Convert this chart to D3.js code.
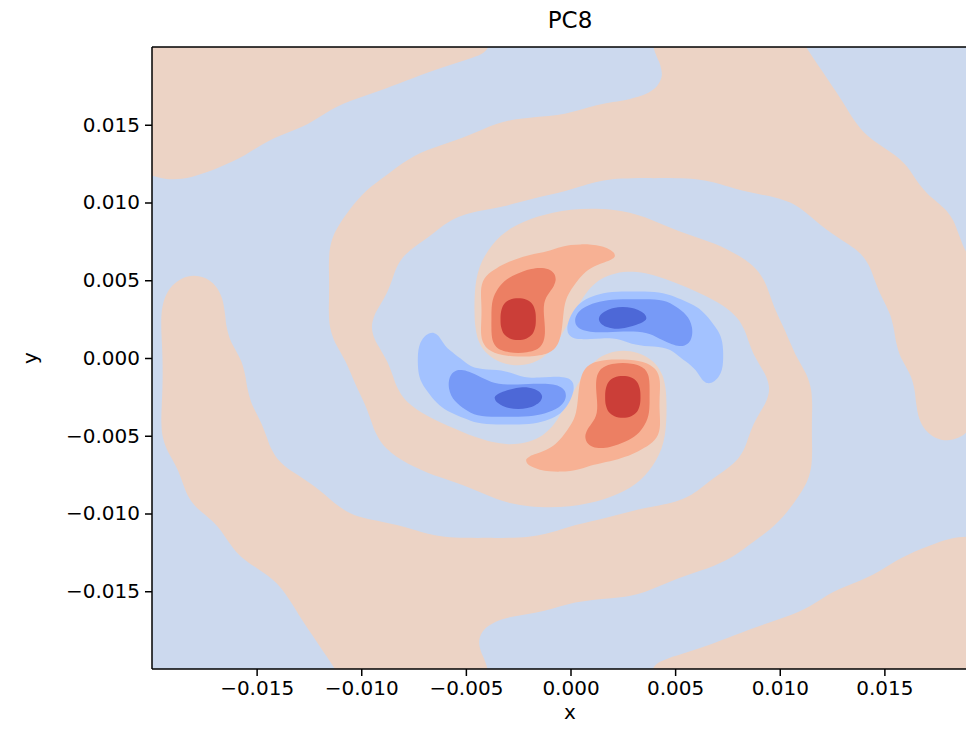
<!DOCTYPE html>
<html>
<head>
<meta charset="utf-8">
<script src="https://cdn.jsdelivr.net/npm/d3@7"></script>
<style>body{margin:0;background:#fff;}</style>
</head>
<body>
<svg id="chart" width="966" height="739"></svg>
<script>
// ---------------- data ----------------
// Field sampled on a regular grid. Digits are contour-band indices:
// 0 dark blue, 1 blue, 2 light blue, 3 pale blue, 4 pale orange, 5 salmon, 6 red-orange, 7 dark red.
// Outer grid: x,y from -0.020 to 0.020 every 0.001 (rows from top y=0.020 down).
const outerX0 = -0.02, outerY0 = 0.02, outerStep = 0.001, outerN = 41;
const outerRows = [
  "44444444444444444 3333333 44444444 333333333",
  "444444444444444 3333333333 4444444 333333333",
  "4444444444444 333333333333 44444444 33333333",
  "44444444444 3333333333333 444444444 33333333",
  "444444444 333333333333 4444444444444 3333333",
  "44444444 333333333 44444444444444444 3333333",
  "444444 333333333 44444444444444444444 333333",
  "44444 33333333 44444444444444444444444 33333",
  "444 333333333 4444444444444444444444444 3333",
  "33333333333 4444444444 3333333 444444444 3333",
  "3333333333 44444444 3333333333333 4444444 333",
  "3333333333 44444 3333 44444 33333333 4444444 33",
  "333333333 44444 333 444444444 3333333 444444 33",
  "333333333 4444 3333 44444444444 333333 44444 33",
  "333333333 444 3333 4444444444444 333333 44444 3",
  "33 4 333333 444 3333 444444 333 44444 33333 44444 3",
  "3 444 33333 444 3333 44444 333333 444 33333 44444 3",
  "3 444 33333 44 33333 44444 3333333 44 333333 4444 3",
  "3 444 33333 44 33333 4444 333333333 44 33333 4444 3",
  "3 444 33333 44 33333 4444 333333333 44 33333 4444 3",
  "3 4444 33333 44 33333 44 333 44 33333 44 33333 4444 3",
  "3 4444 33333 44 333333333 4444 33333 44 33333 444 3",
  "3 4444 33333 44 333333333 4444 33333 44 33333 444 3",
  "3 4444 333333 44 3333333 44444 33333 44 33333 444 3",
  "3 44444 33333 444 333333 44444 3333 444 33333 444 3",
  "3 44444 33333 44444 333 444444 3333 444 333333 4 33",
  "3 44444 333333 4444444444444 3333 444 333333333",
  "33 44444 333333 44444444444 3333 4444 333333333",
  "33 444444 3333333 444444444 333 44444 333333333",
  "33 4444444 33333333 44444 3333 44444 3333333333",
  "333 4444444 3333333333333 44444444 3333333333",
  "3333 444444444 3333333 4444444444 33333333333",
  "3333 4444444444444444444444444 333333333 444",
  "33333 44444444444444444444444 33333333 44444",
  "333333 44444444444444444444 333333333 444444",
  "3333333 44444444444444444 333333333 44444444",
  "3333333 4444444444444 333333333333 444444444",
  "33333333 444444444 3333333333333 44444444444",
  "33333333 44444444 333333333333 4444444444444",
  "333333333 4444444 3333333333 444444444444444",
  "333333333 44444444 3333333 44444444444444444"
];
// Centre grid: x,y from -0.008 to 0.008 every 0.0005 (rows from top y=0.008 down).
const centreX0 = -0.008, centreY0 = 0.008, centreStep = 0.0005, centreN = 33;
const centreRows = [
  "333333333333333333333333333333333",
  "333333333333333 44444 3333333333333",
  "333333333333 444 55555 4 333333333333",
  "3333333333 44 555555555 4 33333333333",
  "333333333 4 555555555 44 333333333333",
  "33333333 4 555 666 555 4 33333333333333",
  "3333333 4 55 66666 55 4 333333333333333",
  "3333333 4 55 66666 55 4 333333333333333",
  "3333333 4 5 66666 55 4 33 2222222 3333333",
  "3333333 4 5 6 777 6 55 4 22 1111111 22 33333",
  "3333333 4 5 6 777 6 55 4 111 000 1111 22 3333",
  "3333333 4 5 6 777 6 55 2 11 00000 1111 22 333",
  "3333333 4 5 6 777 6 55 2 111 00 111111 22 333",
  "333 2 333 4 5 6 777 6 55 22222222 1111 222 33",
  "33 22 333 4 5 66666 5 4 333333 2222 11 222 33",
  "33 222 333 4 5 666 55 4 3333333333 22222 33",
  "33 2222 333 444444 333 444444 333 2222 33",
  "33 22222 3333333333 4 55 666 5 4 333 222 33",
  "33 222 11 2222 333333 4 5 66666 5 4 333 22 33",
  "33 222 1111 22222222 55 6 777 6 5 4 333 2 333",
  "333 22 111111 00 111 2 55 6 777 6 5 4 3333333",
  "333 22 1111 00000 11 2 55 6 777 6 5 4 3333333",
  "3333 22 1111 000 111 4 55 6 777 6 5 4 3333333",
  "33333 22 1111111 22 4 55 6 777 6 5 4 3333333",
  "3333333 2222222 33 4 55 66666 5 4 3333333",
  "333333333333333 4 55 66666 55 4 3333333",
  "333333333333333 4 55 66666 55 4 3333333",
  "33333333333333 4 555 666 555 4 33333333",
  "333333333333 44 555555555 4 333333333",
  "33333333333 4 555555555 44 3333333333",
  "333333333333 4 55555 444 333333333333",
  "3333333333333 44444 333333333333333",
  "333333333333333333333333333333333"
];
const bandColors = ["#4d68d7", "#779af7", "#a3c2ff", "#ccd9ee", "#ecd3c5", "#f7b194", "#ec7f63", "#cb3e38"];
const redThresholds = [4.5, 5.5, 6.5];     // salmon, red-orange, dark red
const blueThresholds = [2.5, 1.5, 0.5];    // light blue, blue, dark blue
const paleThreshold = 3.5;                 // pale blue / pale orange split
const xTicks = [-0.015, -0.010, -0.005, 0.000, 0.005, 0.010, 0.015];
const yTicks = [-0.015, -0.010, -0.005, 0.000, 0.005, 0.010, 0.015];
const titleText = "PC8", xLabel = "x", yLabel = "y";

// ---------------- drawing ----------------
const W = 966, H = 739;
const plot = {left: 152, top: 47, right: 989, bottom: 669};
const x = d3.scaleLinear().domain([-0.02, 0.02]).range([plot.left, plot.right]);
const y = d3.scaleLinear().domain([-0.02, 0.02]).range([plot.bottom, plot.top]);
const FONT = "DejaVu Sans";

const svg = d3.select("#chart");
svg.append("rect").attr("width", W).attr("height", H).attr("fill", "#fff");
svg.append("defs").append("clipPath").attr("id", "clip").append("rect")
  .attr("x", plot.left).attr("y", plot.top)
  .attr("width", plot.right - plot.left).attr("height", plot.bottom - plot.top);
const g = svg.append("g").attr("clip-path", "url(#clip)");

function parseGrid(rows, n) {
  const out = [];
  rows.forEach(r => {
    let s = r.replace(/\s+/g, "");
    if (s.length < n) s = s.padEnd(n, s[s.length - 1]);
    s = s.slice(0, n);
    for (const ch of s) out.push(+ch);
  });
  return out;
}

// Taubin smoothing of a contour ring (display-only; removes the marching-squares staircase)
function smoothRing(pts, fixed, iters) {
  const n = pts.length;
  let p = pts.map(q => q.slice());
  const pass = w => {
    p = p.map((pt, i) => {
      if (fixed[i]) return pt;
      const a = p[(i - 1 + n) % n], b = p[(i + 1) % n];
      return [pt[0] + w * ((a[0] + b[0]) / 2 - pt[0]), pt[1] + w * ((a[1] + b[1]) / 2 - pt[1])];
    });
  };
  for (let k = 0; k < iters; k++) { pass(0.5); pass(-0.53); }
  return p;
}

const lineGen = d3.line().curve(d3.curveCatmullRomClosed.alpha(0.5));
function contourPath(geom, x0, y0, step, n) {
  let d = "";
  geom.coordinates.forEach(poly => poly.forEach(ring => {
    const raw = ring.slice(0, -1);
    if (raw.length < 3) return;
    const fixed = raw.map(([u, v]) => u <= 0 || u >= n || v <= 0 || v >= n);
    const pts = raw.map(([u, v]) => [x(x0 + (u - 0.5) * step), y(y0 - (v - 0.5) * step)]);
    d += lineGen(smoothRing(pts, fixed, 12));
  }));
  return d;
}

// pale blue base over the whole field
g.append("rect")
  .attr("x", x(-0.021)).attr("y", y(0.021))
  .attr("width", x(0.021) - x(-0.021)).attr("height", y(-0.021) - y(0.021))
  .attr("fill", bandColors[3]);

// pale orange regions
const outerVals = parseGrid(outerRows, outerN);
d3.contours().size([outerN, outerN]).thresholds([paleThreshold])(outerVals).forEach(c => {
  g.append("path").attr("d", contourPath(c, outerX0, outerY0, outerStep, outerN))
    .attr("fill", bandColors[4]).attr("fill-rule", "evenodd");
});

// centre: warm bands
const centreVals = parseGrid(centreRows, centreN);
d3.contours().size([centreN, centreN]).thresholds(redThresholds)(centreVals).forEach((c, i) => {
  g.append("path").attr("d", contourPath(c, centreX0, centreY0, centreStep, centreN))
    .attr("fill", bandColors[5 + i]).attr("fill-rule", "evenodd");
});
// centre: cool bands (values at or below threshold)
const negVals = centreVals.map(v => -v);
d3.contours().size([centreN, centreN]).thresholds(blueThresholds.map(t => -t))(negVals).forEach((c, i) => {
  g.append("path").attr("d", contourPath(c, centreX0, centreY0, centreStep, centreN))
    .attr("fill", bandColors[2 - i]).attr("fill-rule", "evenodd");
});

// spines (right spine lies beyond the picture)
const spine = svg.append("g").attr("stroke", "#000").attr("stroke-width", 1.5).attr("fill", "none");
spine.append("line").attr("x1", plot.left).attr("x2", plot.left).attr("y1", plot.top).attr("y2", plot.bottom);
spine.append("line").attr("x1", plot.left).attr("x2", plot.right).attr("y1", plot.top).attr("y2", plot.top);
spine.append("line").attr("x1", plot.left).attr("x2", plot.right).attr("y1", plot.bottom).attr("y2", plot.bottom);

const fmt = d3.format(".3f");
const xAxis = svg.append("g").attr("transform", `translate(0,${plot.bottom})`)
  .call(d3.axisBottom(x).tickValues(xTicks).tickFormat(fmt).tickSize(7).tickPadding(5).tickSizeOuter(0));
const yAxis = svg.append("g").attr("transform", `translate(${plot.left},0)`)
  .call(d3.axisLeft(y).tickValues(yTicks).tickFormat(fmt).tickSize(7).tickPadding(5).tickSizeOuter(0));
[xAxis, yAxis].forEach(a => {
  a.select(".domain").remove();
  a.attr("font-size", 20).attr("font-family", FONT);
  a.selectAll("line").attr("stroke", "#000").attr("stroke-width", 1.5);
  a.selectAll("text").attr("fill", "#000");
});

svg.append("text").attr("x", 570).attr("y", 28).attr("text-anchor", "middle")
  .attr("font-family", FONT).attr("font-size", 23).attr("fill", "#000").text(titleText);
svg.append("text").attr("x", 570).attr("y", 719).attr("text-anchor", "middle")
  .attr("font-family", FONT).attr("font-size", 20).attr("fill", "#000").text(xLabel);
svg.append("text").attr("transform", `translate(37,${y(0)}) rotate(-90)`).attr("text-anchor", "middle")
  .attr("font-family", FONT).attr("font-size", 20).attr("fill", "#000").text(yLabel);
</script>
</body>
</html>
